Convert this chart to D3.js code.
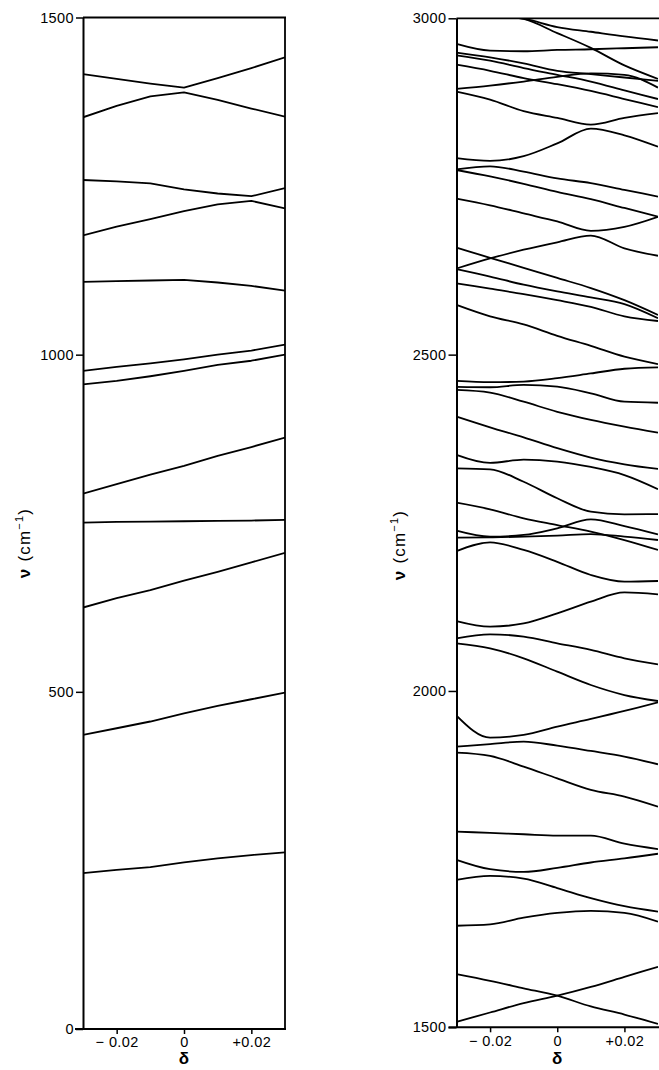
<!DOCTYPE html>
<html><head><meta charset="utf-8">
<script src="https://cdn.jsdelivr.net/npm/d3@7"></script>
<style>
html,body{margin:0;padding:0;background:#fff;}
svg{display:block;}
text{font-family:"Liberation Sans",Arial,Helvetica,sans-serif;fill:#000;}
</style></head>
<body>
<svg id="chart" width="659" height="1070"></svg>
<script>
// ---------- DATA ----------
const delta = [-0.03, -0.02, -0.01, 0, 0.01, 0.02, 0.03];

// low-frequency panel (0-1500 cm-1)
const low01 = [1416, 1409, 1402, 1396, 1410, 1425, 1441];
const low02 = [1352, 1369, 1383, 1389, 1378, 1365, 1353];
const low03 = [1259, 1257, 1254, 1245, 1239, 1235, 1247];
const low04 = [1177, 1190, 1201, 1213, 1223, 1228, 1217];
const low05 = [1108, 1109, 1110, 1111, 1107, 1102, 1095];
const low06 = [976, 982, 987, 993, 1000, 1006, 1015];
const low07 = [956, 961, 968, 976, 985, 991, 1000];
const low08 = [794, 808, 822, 835, 850, 863, 877];
const low09 = [751, 752, 752.5, 753, 753.5, 754, 755];
const low10 = [625, 639, 651, 665, 678, 692, 706];
const low11 = [436, 446, 456, 468, 479, 489, 499];
const low12 = [231, 236, 240, 247, 253, 258, 262];
const lowModes = [low01, low02, low03, low04, low05, low06, low07, low08, low09, low10, low11, low12];

// high-frequency panel (1500-3000 cm-1)
const high01 = [3010, 3005, 2999, 2978, 2956, 2930, 2910];
const high02 = [3008, 3004, 2999.5, 2987, 2980, 2973, 2967];
const high03 = [2962, 2952, 2951, 2953, 2954, 2955.5, 2957];
const high04 = [2949, 2942, 2933, 2922, 2917, 2912, 2907];
const high05 = [2945, 2937, 2926, 2916, 2906, 2893, 2880];
const high06 = [2931, 2922, 2911, 2902, 2892, 2880, 2868];
const high07 = [2895, 2900, 2906, 2913, 2918, 2916, 2897];
const high08 = [2891, 2879, 2862, 2852, 2842, 2852, 2859];
const high09 = [2792, 2788, 2795, 2814, 2836, 2826, 2809];
const high10 = [2775.5, 2780, 2772, 2762, 2755, 2745, 2735];
const high11 = [2774.5, 2765, 2754, 2742, 2731, 2718, 2705];
const high12 = [2732, 2722, 2710, 2698, 2684, 2690, 2705];
const high13 = [2659, 2644, 2629, 2614, 2599, 2581, 2559];
const high14 = [2628, 2643, 2656, 2667, 2677, 2658, 2647];
const high15 = [2627, 2616, 2604, 2594, 2585, 2575, 2554];
const high16 = [2606, 2598, 2590, 2581, 2571, 2557, 2550];
const high17 = [2574, 2557, 2545, 2528, 2513, 2497, 2486];
const high18 = [2461, 2459, 2460, 2465, 2472, 2479, 2481];
const high19 = [2452, 2451.5, 2455, 2452.5, 2442.5, 2430, 2428.5];
const high20 = [2447.5, 2443.5, 2430, 2415, 2403, 2393, 2384];
const high21 = [2408, 2392, 2377, 2361, 2347, 2337, 2330];
const high22 = [2351, 2339, 2344, 2341, 2333, 2321, 2300];
const high23 = [2331, 2329.5, 2311, 2286.5, 2266.5, 2262.6, 2263];
const high24 = [2280, 2270, 2256.6, 2246.7, 2236.8, 2224.4, 2209.6];
const high25 = [2238.3, 2229.4, 2231.9, 2241.8, 2255.1, 2245.2, 2232.8];
const high26 = [2227.9, 2228.4, 2229.4, 2230.9, 2233.3, 2229.4, 2224.4];
const high27 = [2208, 2221, 2209.6, 2192, 2172.4, 2162.5, 2163.5];
const high28 = [2104, 2095.6, 2100.5, 2115.4, 2132.8, 2146.6, 2143.7];
const high29 = [2078.3, 2084.2, 2080.8, 2070.9, 2061, 2048.6, 2039.6];
const high30 = [2070.9, 2063.4, 2048.6, 2028.7, 2008.9, 1994, 1985.1];
const high31 = [1963.3, 1930.6, 1934.6, 1947, 1958.4, 1970.3, 1983.2];
const high32 = [1917.2, 1921, 1924.7, 1918.7, 1910.8, 1902.4, 1891];
const high33 = [1908.3, 1903.4, 1887.5, 1870, 1853, 1843, 1828];
const high34 = [1791, 1789, 1787, 1785, 1785, 1773, 1765];
const high35 = [1749, 1735, 1731, 1737, 1745, 1751, 1758];
const high36 = [1719, 1725, 1721, 1707, 1692, 1680, 1672];
const high37 = [1651, 1653, 1663, 1670, 1673, 1670, 1657];
const high38 = [1579, 1569, 1558, 1547, 1531, 1519, 1505];
const high39 = [1508, 1522, 1536, 1547, 1560, 1575, 1590];
const highModes = [high01, high02, high03, high04, high05, high06, high07, high08, high09, high10,
  high11, high12, high13, high14, high15, high16, high17, high18, high19, high20,
  high21, high22, high23, high24, high25, high26, high27, high28, high29, high30,
  high31, high32, high33, high34, high35, high36, high37, high38, high39];

const xTickValues = [-0.02, 0, 0.02];
const xTickLabels = ["\u2212 0.02", "0", "+0.02"];
const lowYTicks = [0, 500, 1000, 1500];
const highYTicks = [1500, 2000, 2500, 3000];
const xTitle = "\u03b4";

// ---------- DRAW ----------
const svg = d3.select("#chart");
const INK = "#000";

function panel(cfg) {
  const x = d3.scaleLinear().domain([-0.03, 0.03]).range([cfg.x0, cfg.x1]);
  const y = d3.scaleLinear().domain(cfg.yDomain).range([cfg.yBottom, cfg.yTop]);
  const g = svg.append("g");

  const clipId = "clip" + cfg.id;
  svg.append("clipPath").attr("id", clipId).append("rect")
    .attr("x", cfg.x0).attr("y", cfg.yTop).attr("width", cfg.x1 - cfg.x0).attr("height", cfg.yBottom - cfg.yTop);

  const line = d3.line().x((d, i) => x(delta[i])).y(d => y(d)).curve(cfg.curve);
  g.append("g").attr("clip-path", `url(#${clipId})`)
    .selectAll("path").data(cfg.modes).join("path")
    .attr("d", line)
    .attr("fill", "none").attr("stroke", INK).attr("stroke-width", 1.8)
    .attr("stroke-linejoin", "round");

  // frame
  g.append("line").attr("x1", cfg.x0).attr("x2", cfg.frameRight).attr("y1", cfg.yTop).attr("y2", cfg.yTop)
    .attr("stroke", INK).attr("stroke-width", 1.8);
  if (cfg.drawRight) {
    g.append("line").attr("x1", cfg.x1).attr("x2", cfg.x1).attr("y1", cfg.yTop).attr("y2", cfg.yBottom)
      .attr("stroke", INK).attr("stroke-width", 1.8);
  }

  // y axis
  const ya = g.append("g").attr("transform", `translate(${cfg.x0},0)`)
    .call(d3.axisLeft(y).tickValues(cfg.yTicks).tickSize(cfg.yTickLen).tickSizeOuter(0).tickPadding(2).tickFormat(d3.format("d")));
  ya.select(".domain").attr("stroke", INK).attr("stroke-width", 2);
  ya.selectAll(".tick line").attr("stroke", INK).attr("stroke-width", 1.5);
  ya.selectAll(".tick text").attr("font-size", 14.5).attr("letter-spacing", 0.4)
    .attr("font-family", "'Liberation Sans', Arial, sans-serif").attr("fill", INK);

  // x axis
  const xa = g.append("g").attr("transform", `translate(0,${cfg.yBottom})`)
    .call(d3.axisBottom(x).tickValues(xTickValues).tickSize(5).tickSizeOuter(0).tickPadding(3)
      .tickFormat((d, i) => xTickLabels[i]));
  xa.select(".domain").attr("stroke", INK).attr("stroke-width", 2)
    .attr("d", `M${cfg.x0 - 8},0H${cfg.frameRight}`);
  xa.selectAll(".tick line").attr("stroke", INK).attr("stroke-width", 1.5);
  xa.selectAll(".tick text").attr("font-size", 14.5).attr("letter-spacing", 0.4)
    .attr("font-family", "'Liberation Sans', Arial, sans-serif").attr("fill", INK);

  // titles
  const yt = g.append("text")
    .attr("transform", `translate(${cfg.yTitleX},${cfg.yTitleY}) rotate(-90)`)
    .attr("text-anchor", "middle").attr("font-size", 17).attr("letter-spacing", 1.2);
  yt.append("tspan").attr("font-weight", "bold").text("\u03bd");
  yt.append("tspan").text(" (cm");
  yt.append("tspan").attr("font-size", 11).attr("dy", -7).text("\u22121");
  yt.append("tspan").attr("dy", 7).text(")");

  g.append("text").attr("x", x(0)).attr("y", cfg.xTitleY).attr("text-anchor", "middle")
    .attr("font-size", 17).attr("font-weight", "bold").text(xTitle);
}

panel({
  id: "L", modes: lowModes, x0: 83, x1: 285, frameRight: 286,
  yDomain: [0, 1500], yBottom: 1029, yTop: 17.5, yTicks: lowYTicks, yTickLen: 7,
  yTitleX: 30, yTitleY: 543, xTitleY: 1064, drawRight: true, curve: d3.curveLinear
});
panel({
  id: "R", modes: highModes, x0: 456.5, x1: 658, frameRight: 659,
  yDomain: [1500, 3000], yBottom: 1027.3, yTop: 18.3, yTicks: highYTicks, yTickLen: 8,
  yTitleX: 405, yTitleY: 545, xTitleY: 1064, drawRight: false, curve: d3.curveMonotoneX
});
</script>
</body></html>
